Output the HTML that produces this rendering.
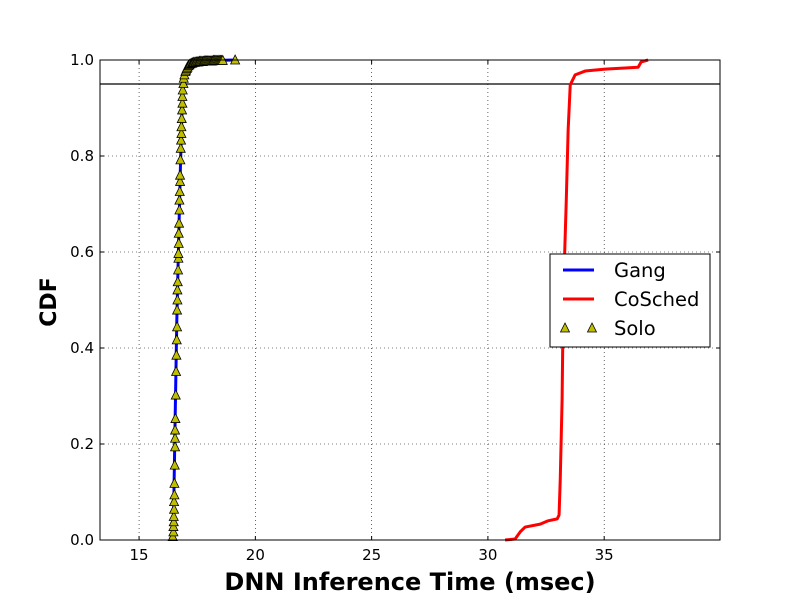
<!DOCTYPE html>
<html><head><meta charset="utf-8"><style>
body{margin:0;background:#fff;}
svg{display:block;font-family:"DejaVu Sans","Liberation Sans",sans-serif;}
</style></head><body>
<svg id="chart" width="800" height="600"></svg>
<script>
const xTicks=[15,20,25,30,35];
const yTicks=[0.0,0.2,0.4,0.6,0.8,1.0];
const yTickLabels=["0.0","0.2","0.4","0.6","0.8","1.0"];
const coschedX=[30.74,31.17,31.39,31.60,32.25,32.59,32.98,33.06,33.11,33.19,33.24,33.37,33.45,33.54,33.75,34.18,35.04,36.46,36.59,36.89];
const coschedY=[0,0.002,0.017,0.027,0.033,0.04,0.044,0.052,0.125,0.292,0.5,0.708,0.854,0.948,0.969,0.977,0.981,0.985,0.996,1.0];
const soloX=[16.448,16.477,16.477,16.491,16.491,16.505,16.505,16.52,16.52,16.534,16.548,16.548,16.548,16.563,16.577,16.591,16.606,16.62,16.634,16.634,16.649,16.649,16.663,16.677,16.692,16.692,16.706,16.706,16.72,16.735,16.735,16.749,16.763,16.763,16.778,16.792,16.806,16.821,16.821,16.835,16.849,16.864,16.864,16.878,16.907,16.921,16.95,16.993,17.02,17.05,17.079,17.12,17.16,17.2,17.265,17.3,17.35,17.4,17.45,17.5,17.55,17.6,17.65,17.7,17.75,17.8,17.85,17.9,17.95,18.0,18.05,18.1,18.15,18.2,18.25,18.3,18.35,18.4,18.45,18.5,18.55,18.6,19.13];
const soloY=[0.007,0.017,0.028,0.038,0.049,0.064,0.080,0.094,0.118,0.156,0.194,0.212,0.229,0.253,0.302,0.351,0.385,0.417,0.444,0.479,0.5,0.521,0.538,0.5625,0.587,0.597,0.618,0.639,0.66,0.6875,0.708,0.726,0.747,0.76,0.792,0.816,0.833,0.847,0.861,0.878,0.896,0.91,0.924,0.9375,0.951,0.962,0.969,0.976,0.979,0.982,0.985,0.988,0.99,0.992,0.993,0.994,0.995,0.995,0.996,0.996,0.996,0.997,0.997,0.997,0.997,0.998,0.998,0.998,0.998,0.998,0.998,0.998,0.998,0.999,0.999,0.999,0.999,0.999,0.999,0.999,0.999,0.999,1.0];
const gangX=[16.46,16.5,16.55,16.62,16.7,16.78,16.85,16.92,17.0,17.1,17.3,17.6,18.2,19.1];
const gangY=[0,0.1,0.25,0.45,0.62,0.78,0.9,0.95,0.975,0.988,0.995,0.998,0.999,1.0];
const refLine=0.95;

const L=100,R=720,T=60,B=540,xMin=13.32,xMax=39.98;
const sx=v=>L+(v-xMin)/(xMax-xMin)*(R-L);
const sy=v=>B-v*(B-T);
const svg=document.getElementById('chart');
const NS='http://www.w3.org/2000/svg';
function mk(tag,attrs,parent){const e=document.createElementNS(NS,tag);for(const k in attrs)e.setAttribute(k,attrs[k]);(parent||svg).appendChild(e);return e;}

const grid=mk('g',{});


xTicks.forEach(v=>{const l=mk('line',{x1:sx(v),x2:sx(v),y1:T,y2:B,stroke:'#000','stroke-width':0.6,'stroke-dasharray':'1,3'},grid);

});
yTicks.forEach(v=>{const l=mk('line',{x1:L,x2:R,y1:sy(v),y2:sy(v),stroke:'#000','stroke-width':0.6,'stroke-dasharray':'1,3'},grid);

});

const ref=mk('line',{x1:L,x2:R,y1:sy(refLine),y2:sy(refLine),stroke:'#000','stroke-width':1.2});



const cp=coschedX.map((x,i)=>sx(x)+','+sy(coschedY[i])).join(' ');
const cl=mk('polyline',{points:cp,fill:'none',stroke:'#f00','stroke-width':3,'stroke-linejoin':'round'});



const gp=gangX.map((x,i)=>sx(x)+','+sy(gangY[i])).join(' ');
const gl=mk('polyline',{points:gp,fill:'none',stroke:'#00f','stroke-width':3,'stroke-linejoin':'round'});



const sg=mk('g',{});


function tri(cx,cy,p){return mk('polygon',{points:`${cx},${cy-5} ${cx-4.5},${cy+4} ${cx+4.5},${cy+4}`,fill:'#bfbf00',stroke:'#000','stroke-width':0.8},p);}
soloX.forEach((x,i)=>{const t=tri(sx(x),sy(soloY[i]),sg);

});

const frame=mk('rect',{x:L,y:T,width:R-L,height:B-T,fill:'none',stroke:'#000','stroke-width':1});



xTicks.forEach(v=>{
 const a=mk('line',{x1:sx(v),x2:sx(v),y1:B,y2:B-4,stroke:'#000'});
 
 
 const b=mk('line',{x1:sx(v),x2:sx(v),y1:T,y2:T+4,stroke:'#000'});
 
 
 const t=mk('text',{x:sx(v),y:B+20,'text-anchor':'middle','font-size':15});t.textContent=v;
 
 
});
yTicks.forEach((v,i)=>{
 const a=mk('line',{x1:L,x2:L+4,y1:sy(v),y2:sy(v),stroke:'#000'});
 
 
 const b=mk('line',{x1:R,x2:R-4,y1:sy(v),y2:sy(v),stroke:'#000'});
 
 
 const t=mk('text',{x:L-6,y:sy(v)+5,'text-anchor':'end','font-size':15});t.textContent=yTickLabels[i];
 
 
});

const xt=mk('text',{x:410,y:590,'text-anchor':'middle','font-size':24,'font-weight':'bold'});xt.textContent='DNN Inference Time (msec)';


const yt=mk('text',{x:0,y:0,'text-anchor':'middle','font-size':22,'font-weight':'bold',transform:'translate(56,302) rotate(-90)'});yt.textContent='CDF';



const lg=mk('g',{});


mk('rect',{x:550,y:254,width:160,height:93,fill:'#fff',stroke:'#000','stroke-width':1},lg);
const e1=mk('line',{x1:563,x2:594,y1:270,y2:270,stroke:'#00f','stroke-width':3},lg);


const e2=mk('line',{x1:563,x2:594,y1:299,y2:299,stroke:'#f00','stroke-width':3},lg);


const s1=tri(565,328,lg);


const s2=tri(592,328,lg);


[['Gang',277],['CoSched',306],['Solo',335]].forEach(([s,y])=>{const t=mk('text',{x:614,y:y,'font-size':19.5},lg);t.textContent=s;

});
</script>
</body></html>
